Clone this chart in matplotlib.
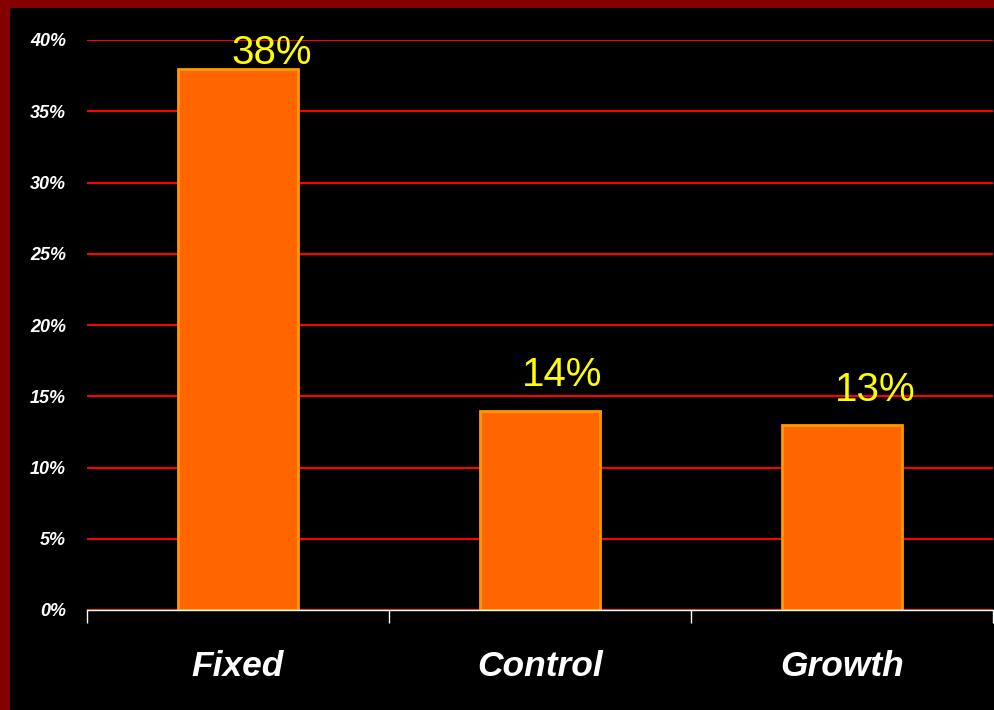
"""
Bar chart: share by mindset type (Fixed / Control / Growth).
"""

import matplotlib.pyplot as plt
from matplotlib.patches import Rectangle
from matplotlib.ticker import FixedLocator, PercentFormatter

# Data
CATEGORIES = ["Fixed", "Control", "Growth"]
VALUES = [38, 14, 13]
VALUE_LABELS = ["38%", "14%", "13%"]
Y_TICKS = [0, 5, 10, 15, 20, 25, 30, 35, 40]

OUT_FILE = "out.png"

plt.rcParams["font.family"] = ["Liberation Sans", "DejaVu Sans"]


def plot_chart():
    fig = plt.figure(figsize=(9.95, 7.1), dpi=100)
    fig.patch.set_facecolor("#850000")
    # black slide panel inside the dark red frame
    fig.patches.append(Rectangle((10 / 995, 0), 1, 1 - 8 / 710,
                                 transform=fig.transFigure,
                                 facecolor="black", zorder=-1))

    ax = fig.add_axes([87 / 995, 100 / 710, 906 / 995, 570 / 710])
    ax.set_zorder(2)
    ax.set_facecolor("black")

    x = range(len(CATEGORIES))
    ax.bar(x, VALUES, width=0.4, color="#ff6600", edgecolor="#ff9900",
           linewidth=2, zorder=3)

    # value labels (offsets in points, as placed on the original slide)
    offsets = [(24, 3.5), (16, 18), (24, 17)]
    for i, (v, lab) in enumerate(zip(VALUES, VALUE_LABELS)):
        dx, dy = offsets[i]
        ax.annotate(lab, (i, v), xytext=(dx, dy), textcoords="offset points",
                    ha="center", va="baseline", color="#ffff00",
                    fontsize=29, zorder=4)

    ax.set_xlim(-0.5, len(CATEGORIES) - 0.5)
    ax.set_ylim(0, 40)
    ax.set_yticks(Y_TICKS)
    ax.yaxis.set_major_formatter(PercentFormatter(decimals=0))
    ax.grid(axis="y", color="#ff0000", linewidth=1.5, zorder=1)

    ax.set_xticks(list(x))
    ax.set_xticklabels(CATEGORIES, fontsize=25.5, fontweight="bold",
                       fontstyle="italic", color="white")
    ax.xaxis.set_minor_locator(FixedLocator([-0.5, 0.5, 1.5, 2.5]))
    ax.tick_params(axis="x", which="major", length=0, pad=29)
    ax.tick_params(axis="x", which="minor", length=9, width=1, color="white")
    ax.tick_params(axis="y", length=0, pad=15, labelcolor="white")
    for lab in ax.get_yticklabels():
        lab.set_fontsize(13)
        lab.set_fontweight("bold")
        lab.set_fontstyle("italic")

    for side in ["top", "right", "left"]:
        ax.spines[side].set_visible(False)
    ax.spines["bottom"].set_color("white")
    ax.spines["bottom"].set_linewidth(1)
    ax.spines["bottom"].set_zorder(5)

    fig.savefig(OUT_FILE, dpi=100, facecolor=fig.get_facecolor())


if __name__ == "__main__":
    plot_chart()
